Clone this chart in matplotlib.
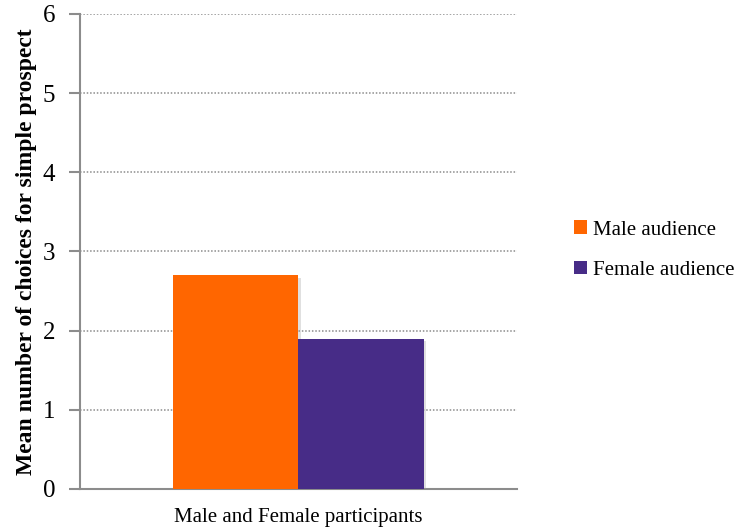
import matplotlib
matplotlib.use("Agg")
import matplotlib.pyplot as plt
from matplotlib.patches import Patch
import matplotlib.patheffects as pe

category = "Male and Female participants"
series_names = ["Male audience", "Female audience"]
series_values = [2.7, 1.9]
series_colors = ["#FF6600", "#472C87"]
y_ticks = [0, 1, 2, 3, 4, 5, 6]

plt.rcParams["font.family"] = ["Liberation Serif", "DejaVu Serif"]

fig = plt.figure(figsize=(7.34, 5.30), dpi=100)
ax = fig.add_axes([0.109, 0.0774, 0.595, 0.8962])

bar_w = 0.287
offsets = [-bar_w / 2, bar_w / 2]
for off, val, col in zip(offsets, series_values, series_colors):
    ax.bar(off, val, width=bar_w, color=col, zorder=3,
           path_effects=[pe.SimplePatchShadow(offset=(2, -2), shadow_rgbFace="#999999", alpha=0.3),
                         pe.Normal()])

ax.set_xlim(-0.5, 0.5)
ax.set_ylim(0, 6)
ax.set_yticks(y_ticks)
ax.set_yticklabels([str(t) for t in y_ticks], fontsize=18)
ax.set_xticks([])
ax.set_xlabel(category, fontsize=15, labelpad=14)
ax.set_ylabel("Mean number of choices for simple prospect", fontsize=17,
              fontweight="bold", labelpad=4)

ax.yaxis.grid(True, linestyle=(0, (1, 1.2)), color="#8c8c8c", linewidth=1.1, zorder=0)
for s in ["top", "right"]:
    ax.spines[s].set_visible(False)
for s in ["left", "bottom"]:
    ax.spines[s].set_color("#8c8c8c")
    ax.spines[s].set_linewidth(1.5)
ax.tick_params(axis="y", length=8, width=1.5, color="#8c8c8c", pad=10)

handles = [Patch(facecolor=c, label=n) for n, c in zip(series_names, series_colors)]
fig.legend(handles=handles, loc="center left", bbox_to_anchor=(0.7815, 0.528),
           frameon=False, fontsize=15, handlelength=0.65, handleheight=0.65,
           handletextpad=0.3, labelspacing=1.0, borderpad=0, borderaxespad=0)

fig.savefig("out.png", dpi=100)
